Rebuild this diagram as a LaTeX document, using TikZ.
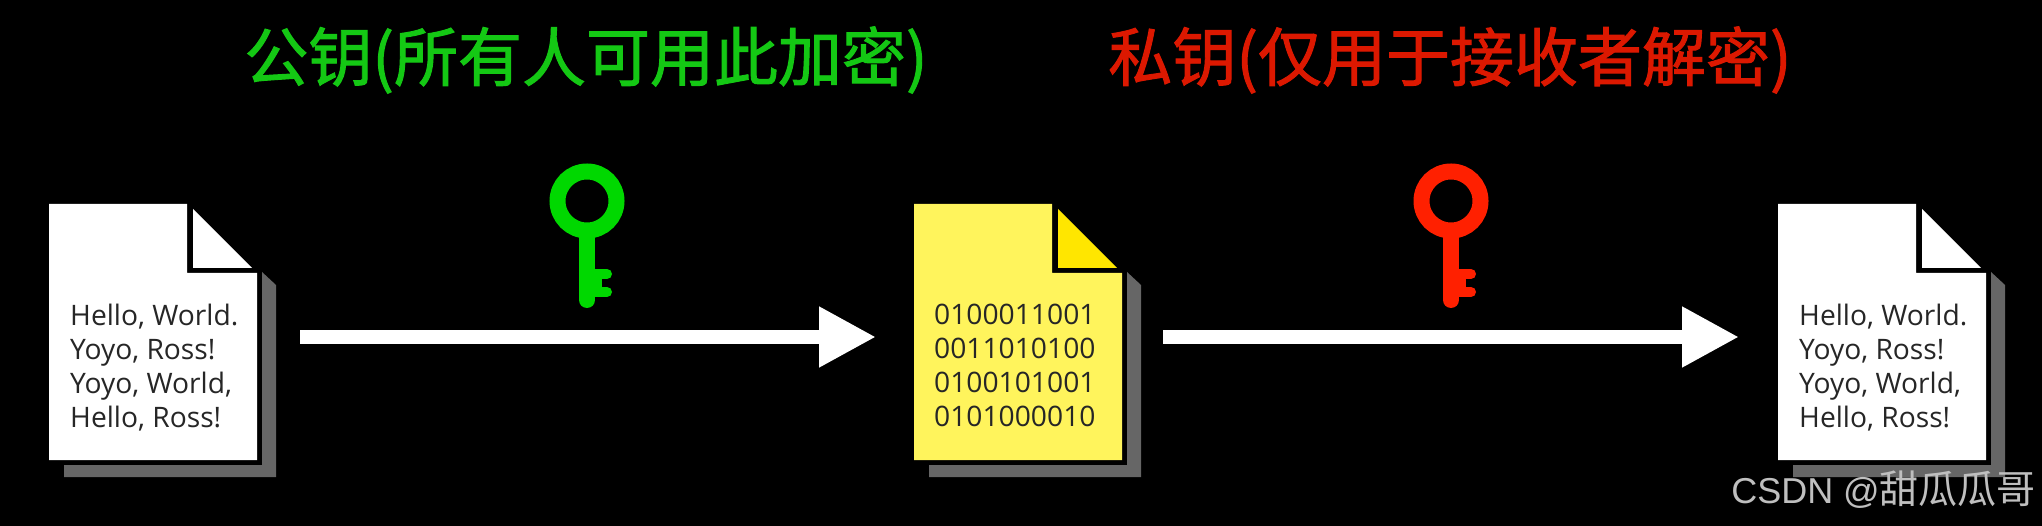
\documentclass[tikz,border=0pt]{standalone}
\usepackage{fontspec}
\setmainfont{Open Sans}
\newfontfamily\cjktitle[FakeBold=1.5]{Noto Sans CJK SC}
\newfontfamily\cjkmark{Noto Sans CJK SC}
\newfontfamily\latinmark{Liberation Sans}
\usetikzlibrary{arrows.meta}
\definecolor{keygreen}{HTML}{00D800}
\definecolor{keyred}{HTML}{FF2000}
\definecolor{titlegreen}{HTML}{14C814}
\definecolor{titlered}{HTML}{DC1800}
\definecolor{sheetyellow}{HTML}{FFF45C}
\definecolor{foldyellow}{HTML}{FFE600}
\definecolor{shadowgray}{HTML}{666666}
\tikzset{
  docbox/.style={minimum width=227pt,minimum height=266pt,inner sep=0pt,outer sep=0pt},
  bigarrow/.style={white,line width=14pt,-{Triangle[length=57pt,width=57pt]}},
  doctext/.style={anchor=north west,inner sep=0pt,align=left,text=black!85,
    font=\fontsize{28.2}{34}\selectfont},
  title/.style={font=\cjktitle\fontsize{64}{66}\selectfont},
}
% sheet with folded corner, drawn from the north west corner of a docbox
\newcommand{\docsheet}[3]{
  \begin{scope}[shift={(#1.north west)}]
    \fill[shadowgray] (15,273) -- (227,273) -- (227,81) -- (213,68) -- (213,261) -- (15,261) -- cycle;
    \fill[#2] (0,0) -- (138,0) -- (138,69) -- (208,69) -- (208,256) -- (0,256) -- cycle;
    \fill[#3] (144,5) -- (203,64) -- (144,64) -- cycle;
  \end{scope}
}
% key with its ring centre at the given coordinate
\newcommand{\keyicon}[2]{
  \begin{scope}[shift={(#1)}]
    \draw[#2,line width=16pt] (0,0) circle (29.5);
    \draw[#2,line width=16pt,line cap=round] (0,30) -- (0,99);
    \fill[#2] (0,73) rectangle (14.5,91);
    \draw[#2,line width=10pt,line cap=round] (0,73) -- (20,73);
    \draw[#2,line width=10pt,line cap=round] (0,91) -- (20,91);
  \end{scope}
}
\begin{document}
\begin{tikzpicture}[x=1pt,y=-1pt]
\fill[black] (0,0) rectangle (2042,526);
\useasboundingbox (0,0) rectangle (2042,526);
\node[docbox,anchor=north west] (docA) at (49,204) {};
\node[docbox,anchor=north west] (docB) at (914,204) {};
\node[docbox,anchor=north west] (docC) at (1778,204) {};
\docsheet{docA}{white}{white}
\docsheet{docB}{sheetyellow}{foldyellow}
\docsheet{docC}{white}{white}
\node[doctext] (textA) at (70,304) {Hello, World.\\Yoyo, Ross!\\Yoyo, World,\\Hello, Ross!};
\node[doctext] (textB) at (934,304) {0100011001\\0011010100\\0100101001\\0101000010};
\node[doctext] (textC) at (1799,304) {Hello, World.\\Yoyo, Ross!\\Yoyo, World,\\Hello, Ross!};
\draw[bigarrow,shorten <=24pt,shorten >=38pt] (docA.east) -- (docB.west);
\draw[bigarrow,shorten <=22pt,shorten >=39pt] (docB.east) -- (docC.west);
\keyicon{587,201}{keygreen}
\keyicon{1451,201}{keyred}
\node[title,text=titlegreen] (titleA) at (586,60) {公钥(所有人可用此加密)};
\node[title,text=titlered] (titleB) at (1450,60) {私钥(仅用于接收者解密)};
\node[anchor=base east,inner sep=0pt,text=black!25] (mark) at (2036,503)
  {\latinmark\fontsize{36}{40}\selectfont CSDN @\cjkmark\fontsize{39}{40}\selectfont 甜瓜瓜哥};
\end{tikzpicture}
\end{document}
